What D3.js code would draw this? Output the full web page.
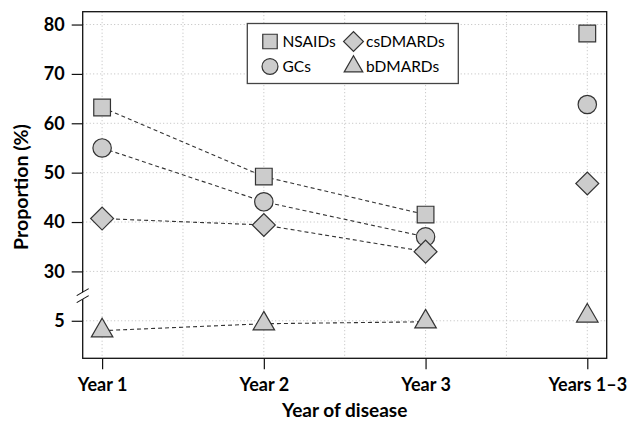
<!DOCTYPE html>
<html>
<head>
<meta charset="utf-8">
<script src="https://cdn.jsdelivr.net/npm/d3@7"></script>
<style>
  html, body { margin: 0; padding: 0; background: #fff; }
  svg { display: block; font-family: Lato, "DejaVu Sans", sans-serif; }
</style>
</head>
<body>
<div id="chart"></div>
<script>
// data
const categories = ['Year 1', 'Year 2', 'Year 3', 'Years 1–3'];
const xPos = [1, 2, 3, 4];
const seriesNames = ['NSAIDs', 'GCs', 'csDMARDs', 'bDMARDs'];
const nsaids = [63.2, 49.2, 41.5, 78.2];
const gcs = [55.0, 44.1, 37.0, 63.8];
const csdmards = [40.7, 39.4, 34.0, 47.8];
const bdmards = [3.0, 4.4, 4.8, 6.0];
const upperTicks = [30, 40, 50, 60, 70, 80];
const lowerTicks = [5];
const breakShift = 15;   // lower panel values are drawn shifted up by this
const xGrid = [1, 1.5, 2, 2.5, 3, 3.5, 4];

const W = 628, H = 425;
const pl = 82.7, pr = 606.7, pt = 11.7, pb = 358.3;

const svg = d3.select('#chart').append('svg')
  .attr('width', W).attr('height', H);

const x = d3.scaleLinear().domain([0.88, 4.12]).range([pl, pr]);
const y = d3.scaleLinear().domain([12.4, 82.6]).range([pb, pt]);

const yTicks = lowerTicks.map(v => v + breakShift).concat(upperTicks);

// grid
const grid = svg.append('g')
  .attr('stroke', '#bdbdbd').attr('stroke-width', 1)
  .attr('stroke-dasharray', '1,2.5');
grid.selectAll('line.v').data(xGrid).join('line').attr('class', 'v')
  .attr('x1', d => x(d)).attr('x2', d => x(d))
  .attr('y1', pt).attr('y2', pb);
grid.selectAll('line.h').data(yTicks).join('line').attr('class', 'h')
  .attr('x1', pl).attr('x2', pr)
  .attr('y1', d => y(d)).attr('y2', d => y(d));

// series
const shapes = {
  NSAIDs: { type: d3.symbolSquare, size: 279, rot: 0 },
  GCs: { type: d3.symbolCircle, size: 266, rot: 0 },
  csDMARDs: { type: d3.symbolSquare, size: 262, rot: 45 },
  bDMARDs: { type: d3.symbolTriangle, size: 200, rot: 0 }
};
const series = [
  { name: 'NSAIDs', vals: nsaids, shift: 0 },
  { name: 'GCs', vals: gcs, shift: 0 },
  { name: 'csDMARDs', vals: csdmards, shift: 0 },
  { name: 'bDMARDs', vals: bdmards, shift: breakShift }
];

const line = d3.line().x(d => x(d.x)).y(d => y(d.y));

// dashed lines, only over the single years
svg.append('g').selectAll('path')
  .data(series).join('path')
  .attr('d', s => line(s.vals.slice(0, 3).map((v, i) => ({ x: xPos[i], y: v + s.shift }))))
  .attr('fill', 'none')
  .attr('stroke', '#333')
  .attr('stroke-width', 1.1)
  .attr('stroke-dasharray', '4,3');

// markers
series.forEach(s => {
  const sh = shapes[s.name];
  svg.append('g').selectAll('path')
    .data(s.vals).join('path')
    .attr('d', d3.symbol().type(sh.type).size(sh.size))
    .attr('transform', (v, i) => `translate(${x(xPos[i])},${y(v + s.shift)}) rotate(${sh.rot})`)
    .attr('fill', '#cccccc')
    .attr('stroke', '#333')
    .attr('stroke-width', 1.2);
});

// box
svg.append('rect')
  .attr('x', pl).attr('y', pt)
  .attr('width', pr - pl).attr('height', pb - pt)
  .attr('fill', 'none').attr('stroke', '#111').attr('stroke-width', 1.3);

// axes
const yAxis = svg.append('g')
  .attr('transform', `translate(${pl},0)`)
  .call(d3.axisLeft(y).tickValues(yTicks).tickSize(11).tickPadding(7)
    .tickFormat(d => d < 30 ? d - breakShift : d));
yAxis.select('.domain').remove();

const xAxis = svg.append('g')
  .attr('transform', `translate(0,${pb})`)
  .call(d3.axisBottom(x).tickValues(xPos).tickSize(11).tickPadding(9)
    .tickFormat((d, i) => categories[i]));
xAxis.select('.domain').remove();

svg.selectAll('.tick line').attr('stroke', '#111').attr('stroke-width', 1.2);
svg.selectAll('.tick text')
  .attr('fill', '#000')
  .style('font-family', 'Lato, sans-serif')
  .style('font-size', '18px')
  .style('font-weight', 'bold');

// axis break marks
const yb = y(25.8);
svg.append('path')
  .attr('d', `M${pl - 6},${yb + 3.5} L${pl + 6},${yb - 3.5} L${pl + 6},${yb + 3.5} L${pl - 6},${yb + 10.5} Z`)
  .attr('fill', '#fff');
svg.append('g').attr('stroke', '#111').attr('stroke-width', 1.1)
  .selectAll('line').data([0, 7]).join('line')
  .attr('x1', pl - 6).attr('y1', d => yb + 3.5 + d)
  .attr('x2', pl + 6).attr('y2', d => yb - 3.5 + d);

// axis titles
svg.append('text')
  .attr('x', (pl + pr) / 2).attr('y', 417)
  .attr('text-anchor', 'middle')
  .style('font-size', '19px').style('font-weight', 'bold').attr('fill', '#000')
  .text('Year of disease');
svg.append('text')
  .attr('transform', `translate(28,${(pt + pb) / 2 + 2}) rotate(-90)`)
  .attr('text-anchor', 'middle')
  .style('font-size', '19.5px').style('font-weight', 'bold').attr('fill', '#000')
  .text('Proportion (%)');

// legend
const lg = svg.append('g');
lg.append('rect')
  .attr('x', 247.3).attr('y', 23.5).attr('width', 211).attr('height', 60)
  .attr('fill', '#fff').attr('stroke', '#444').attr('stroke-width', 1.3);
const item = lg.selectAll('g.item').data(seriesNames).join('g')
  .attr('class', 'item')
  .attr('transform', (d, i) => `translate(${270 + Math.floor(i / 2) * 83.5},${41.5 + (i % 2) * 25})`);
item.append('path')
  .attr('d', d => d3.symbol().type(shapes[d].type).size(shapes[d].size * 0.75)())
  .attr('transform', d => `rotate(${shapes[d].rot})`)
  .attr('fill', '#cccccc').attr('stroke', '#333').attr('stroke-width', 1.2);
item.append('text')
  .attr('x', 12.5).attr('dy', '0.35em')
  .style('font-size', '15.5px').attr('fill', '#000')
  .text(d => d);
</script>
</body>
</html>
